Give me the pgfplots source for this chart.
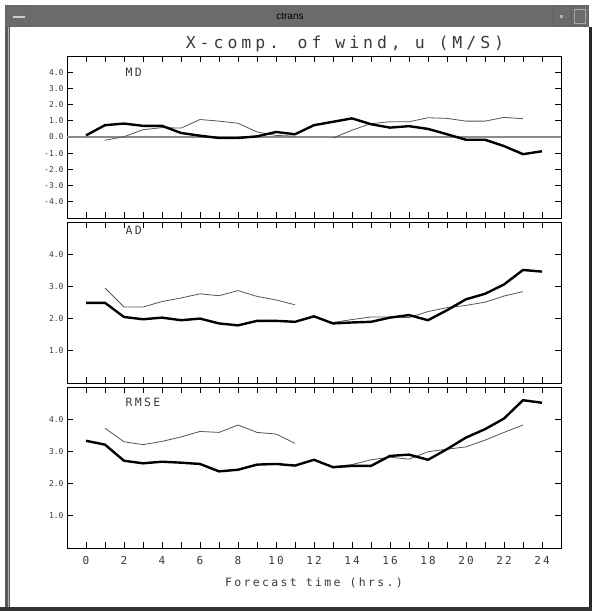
\documentclass[border=0pt]{standalone}
\usepackage{fontspec}
\setmainfont{DejaVu Sans Mono}
\newfontfamily\titlefont{DejaVu Sans Mono}[LetterSpace=24]
\newfontfamily\lblfont{DejaVu Sans Mono}[LetterSpace=20]
\newfontfamily\winfont{Liberation Sans}
\usepackage{pgfplots}
\pgfplotsset{compat=1.18}
\definecolor{barcol}{HTML}{6B6B6B}
\definecolor{thincol}{HTML}{555555}
\definecolor{zerocol}{HTML}{8C8C8C}
\definecolor{txtcol}{HTML}{3A3A3A}
\pgfplotsset{
  panel/.style={
    scale only axis, width=494pt,
    xmin=-1, xmax=25,
    xtick={0,...,24},
    tick align=inside, tick pos=both,
    major tick length=6pt,
    tick style={black, line width=0.7pt},
    axis line style={black, line width=0.9pt},
    /pgf/number format/assume math mode=true,
    yticklabel style={font=\fontsize{8}{9}\selectfont, text=txtcol,
      /pgf/number format/fixed, /pgf/number format/fixed zerofill,
      /pgf/number format/precision=1},
    clip=true,
  },
  thick line/.style={black, line width=2.4pt, line join=round},
  thin line/.style={thincol, line width=0.8pt, line join=round},
}
\begin{document}
\begin{tikzpicture}
\useasboundingbox (0pt,0pt) rectangle (592pt,-611pt);
% window chrome
\fill[white] (0pt,0pt) rectangle (592pt,-611pt);
\fill[barcol] (5pt,-5pt) rectangle (589pt,-27pt);
\draw[black!60, line width=0.6pt] (5.5pt,-5.5pt) rectangle (29pt,-26.5pt);
\fill[black!20] (13pt,-16pt) rectangle (25pt,-18pt);
\draw[black!60, line width=0.6pt] (552pt,-5.5pt) rectangle (570pt,-26.5pt);
\fill[black!30] (560pt,-15pt) rectangle (563pt,-18pt);
\draw[black!60, line width=0.6pt] (571pt,-5.5pt) rectangle (588.5pt,-26.5pt);
\draw[black!35, line width=0.8pt] (574pt,-9pt) rectangle (585pt,-23pt);
\node[font=\winfont\fontsize{10}{12}\selectfont] at (290pt,-16pt) {ctrans};
\fill[black!65] (5pt,-27pt) rectangle (10pt,-607pt);
\fill[black!30] (8pt,-27pt) rectangle (9pt,-607pt);
\fill[black!85] (589pt,-27pt) rectangle (592pt,-611pt);
\fill[black!80] (0pt,-607pt) rectangle (592pt,-611pt);
% title
\node[text=txtcol, font=\titlefont\fontsize{16.5}{18}\selectfont] at (345pt,-44pt) {X-comp. of wind, u (M/S)};

% ---------- MD ----------
\begin{axis}[panel, at={(67pt,-56pt)}, anchor=north west, height=162pt,
  ymin=-5, ymax=5, ytick={-4,...,4}, xticklabel={\phantom{0}}]
\addplot[zerocol, line width=1.3pt] coordinates {(-1,0) (25,0)};
\addplot[thin line] coordinates {
(1,-0.20) (2,0.02) (3,0.45) (4,0.58) (5,0.55) (6,1.08) (7,0.98) (8,0.85) (9,0.31) (10,0.10) (11,0.05)};
\addplot[thin line] coordinates {
(13,-0.06) (14,0.42) (15,0.83) (16,0.94) (17,0.94) (18,1.19) (19,1.15) (20,0.98) (21,0.98) (22,1.21) (23,1.13)};
\addplot[thick line] coordinates {
(0,0.10) (1,0.73) (2,0.83) (3,0.69) (4,0.69) (5,0.25) (6,0.08) (7,-0.06) (8,-0.06) (9,0.04) (10,0.31) (11,0.17) (12,0.73)
(13,0.94) (14,1.15) (15,0.79) (16,0.58) (17,0.67) (18,0.50) (19,0.17) (20,-0.17) (21,-0.17) (22,-0.56) (23,-1.06) (24,-0.88)};
\node[anchor=west, text=txtcol, font=\lblfont\fontsize{11.5}{12}\selectfont] at (axis cs:1.9,4.0) {MD};
\end{axis}

% ---------- AD ----------
\begin{axis}[panel, at={(67pt,-222pt)}, anchor=north west, height=161pt,
  ymin=0, ymax=5, ytick={1,2,3,4}, xticklabel={\phantom{0}}]
\addplot[thin line] coordinates {
(1,2.95) (2,2.36) (3,2.36) (4,2.53) (5,2.64) (6,2.77) (7,2.71) (8,2.87) (9,2.69) (10,2.58) (11,2.43)};
\addplot[thin line] coordinates {
(13,1.88) (14,1.97) (15,2.05) (16,2.05) (17,2.03) (18,2.22) (19,2.34) (20,2.41) (21,2.51) (22,2.70) (23,2.84)};
\addplot[thick line] coordinates {
(0,2.49) (1,2.49) (2,2.05) (3,1.98) (4,2.03) (5,1.95) (6,2.00) (7,1.85) (8,1.79) (9,1.93) (10,1.93) (11,1.90) (12,2.07)
(13,1.85) (14,1.88) (15,1.90) (16,2.03) (17,2.11) (18,1.95) (19,2.26) (20,2.60) (21,2.77) (22,3.06) (23,3.51) (24,3.46)};
\node[anchor=west, text=txtcol, font=\lblfont\fontsize{11.5}{12}\selectfont] at (axis cs:1.9,4.73) {AD};
\end{axis}

% ---------- RMSE ----------
\begin{axis}[panel, at={(67pt,-387pt)}, anchor=north west, height=161pt,
  ymin=0, ymax=5, ytick={1,2,3,4},
  xticklabels={0,,2,,4,,6,,8,,10,,12,,14,,16,,18,,20,,22,,24},
  xticklabel style={font=\lblfont\fontsize{11}{12}\selectfont, text=txtcol, yshift=-5pt},
  xlabel={Forecast time (hrs.)},
  xlabel style={font=\lblfont\fontsize{11.5}{12}\selectfont, text=txtcol, yshift=-6pt}]
\addplot[thin line] coordinates {
(1,3.72) (2,3.30) (3,3.21) (4,3.31) (5,3.45) (6,3.62) (7,3.59) (8,3.82) (9,3.59) (10,3.54) (11,3.25)};
\addplot[thin line] coordinates {
(13,2.53) (14,2.59) (15,2.74) (16,2.82) (17,2.76) (18,2.99) (19,3.07) (20,3.14) (21,3.35) (22,3.59) (23,3.82)};
\addplot[thick line] coordinates {
(0,3.33) (1,3.21) (2,2.71) (3,2.63) (4,2.68) (5,2.65) (6,2.61) (7,2.38) (8,2.43) (9,2.59) (10,2.61) (11,2.56) (12,2.74)
(13,2.51) (14,2.55) (15,2.55) (16,2.86) (17,2.90) (18,2.74) (19,3.07) (20,3.43) (21,3.69) (22,4.02) (23,4.59) (24,4.51)};
\node[anchor=west, text=txtcol, font=\lblfont\fontsize{11.5}{12}\selectfont] at (axis cs:1.9,4.53) {RMSE};
\end{axis}
\end{tikzpicture}
\end{document}
